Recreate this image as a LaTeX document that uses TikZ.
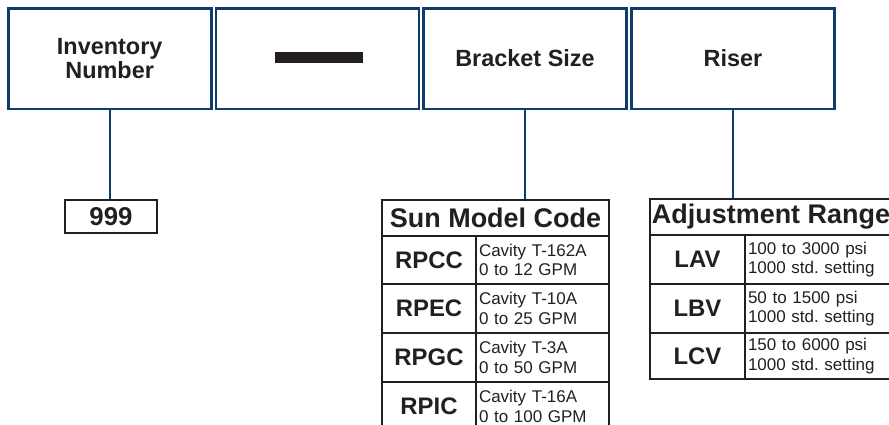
\documentclass[tikz,border=0pt]{standalone}
\usepackage{fontspec}
\setmainfont{Liberation Sans}
\frenchspacing
\definecolor{navy}{RGB}{16,60,110}
\definecolor{ink}{RGB}{35,31,32}
\newcommand\toplabel{\fontsize{20}{20.4}\selectfont\bfseries}
\newcommand\hdfont{\fontsize{23}{23}\selectfont\bfseries}
\newcommand\codefont{\fontsize{20.4}{20.4}\selectfont\bfseries}
\newcommand\descfont{\fontsize{14.5}{16.5}\selectfont}

\begin{document}
\begin{tikzpicture}[x=0.03cm,y=-0.03cm,
  field/.style={draw=navy,line width=2.3pt,minimum width=6.09cm,minimum height=3.02cm,
    align=center,text=ink,font=\toplabel,inner sep=0pt},
  barbox/.style={fill=ink,minimum width=2.64cm,minimum height=0.33cm,inner sep=0pt},
  link/.style={draw=navy,line width=1.7pt},
  cell/.style={draw=ink,line width=1.3pt,text=ink,inner sep=0pt},
  header/.style={cell,line width=1.8pt,minimum height=1.08cm,font=\hdfont},
  code/.style={cell,minimum height=1.455cm,font=\codefont},
  sdesc/.style={cell,minimum height=1.455cm,text width=3.81cm,inner xsep=0.09cm,
    align=left,font=\descfont},
  adesc/.style={cell,minimum height=1.47cm,text width=4.23cm,inner xsep=0.09cm,
    align=left,font=\descfont}]
  \useasboundingbox (0,0) rectangle (889,425);
  \clip (0,0) rectangle (889,425);

  % top row of fields
  \node[field] (inv) at (109.7,58.6) {Inventory\\Number};
  \node[field] (blank) at (317.5,58.6) {};
  \node[barbox] (bar) at (319,57.5) {};
  \node[field] (bracket) at (525,58.6) {Bracket Size};
  \node[field] (riser) at (733,58.6) {Riser};

  \node[cell,line width=1.8pt,minimum width=2.76cm,minimum height=0.99cm,
    font=\fontsize{22}{22}\selectfont\bfseries] (num) at (111,216.5) {999};

  % sun model code
  \node[code,minimum width=2.82cm] (rpcc) at (429,260) {RPCC};
  \node[sdesc] (rpccd) at (542.5,260) {Cavity T-162A\\0 to 12 GPM};
  \node[code,minimum width=2.82cm] (rpec) at (429,308.5) {RPEC};
  \node[sdesc] (rpecd) at (542.5,308.5) {Cavity T-10A\\0 to 25 GPM};
  \node[code,minimum width=2.82cm] (rpgc) at (429,357.5) {RPGC};
  \node[sdesc] (rpgcd) at (542.5,357.5) {Cavity T-3A\\0 to 50 GPM};
  \node[code,minimum width=2.82cm] (rpic) at (429,406.5) {RPIC};
  \node[sdesc] (rpicd) at (542.5,406.5) {Cavity T-16A\\0 to 100 GPM};
  \node[header,minimum width=6.81cm] (sunhd) at (495.5,218) {Sun Model Code};

  % adjustment range
  \node[code,minimum width=2.85cm,minimum height=1.47cm] (lav) at (697.5,259.5) {LAV};
  \node[adesc] (lavd) at (818.5,259.5) {100 to 3000 psi\\1000 std. setting};
  \node[code,minimum width=2.85cm,minimum height=1.47cm] (lbv) at (697.5,308.5) {LBV};
  \node[adesc] (lbvd) at (818.5,308.5) {50 to 1500 psi\\1000 std. setting};
  \node[code,minimum width=2.85cm,minimum height=1.38cm] (lcv) at (697.5,356) {LCV};
  \node[adesc,minimum height=1.38cm] (lcvd) at (818.5,356) {150 to 6000 psi\\1000 std. setting};
  \node[header,minimum width=7.26cm] (adjhd) at (771,217) {Adjustment Range};

  \draw[link] (inv.south) -- (inv.south |- num.north);
  \draw[link] (bracket.south) -- (bracket.south |- sunhd.north);
  \draw[link] (riser.south) -- (riser.south |- adjhd.north);
\end{tikzpicture}
\end{document}
